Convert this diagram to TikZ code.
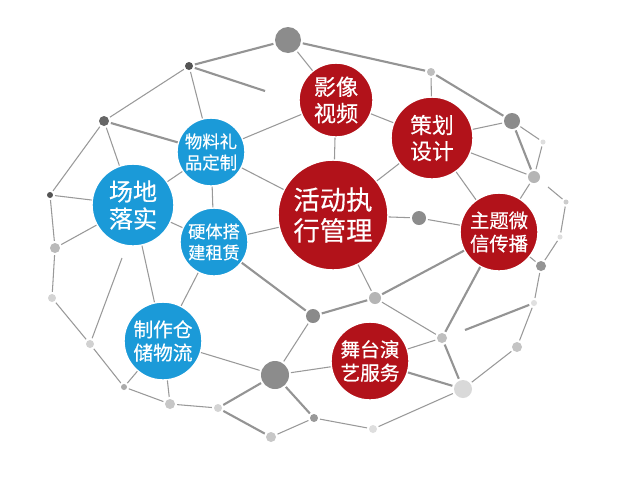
\documentclass[tikz,border=0pt]{standalone}
\usepackage{fontspec}
\newfontfamily\cjk{Noto Sans CJK SC}[FakeBold=0.4]
\definecolor{mred}{RGB}{178, 18, 26}
\definecolor{mblue}{RGB}{27, 154, 216}
\tikzset{bubble/.style n args={4}{circle, inner sep=0pt, fill=#1, draw=white,
                                  line width=0.8pt, minimum size=#2*0.04cm,
                                  text=white, align=center,
                                  font=\cjk\fontsize{#3}{#4}\selectfont},
         dot/.style 2 args={circle, inner sep=0pt, outer sep=1.2pt, fill=black!#1,
                            minimum size=#2*0.04cm},
         web/.style={line width=0.6pt, black!40},
         webthick/.style={line width=1.2pt, black!42}}

\begin{document}
\begin{tikzpicture}[x=0.02cm, y=-0.02cm]
      \useasboundingbox [fill=white] (0, 0) rectangle (628, 478);

      \node [bubble={mred}{55}{15}{17.5}] (huo) at (333, 215) {活动执\\行管理};
      \node [bubble={mred}{37}{12.6}{15}] (ying) at (336, 100) {影像\\视频};
      \node [bubble={mred}{41}{12.4}{14.8}] (cehua) at (432, 138) {策划\\设计};
      \node [bubble={mred}{39}{11}{13.2}] (zhuti) at (499, 232) {主题微\\信传播};
      \node [bubble={mred}{39}{11.2}{13.3}] (wutai) at (370, 361) {舞台演\\艺服务};
      \node [bubble={mblue}{34}{9.9}{12}] (wuliao) at (211, 152) {物料礼\\品定制};
      \node [bubble={mblue}{41}{13.7}{15.5}] (changdi) at (133, 205) {场地\\落实};
      \node [bubble={mblue}{34}{9.8}{12}] (yingti) at (214, 242) {硬体搭\\建租赁};
      \node [bubble={mblue}{39}{11.2}{13.2}] (zhizuo) at (163, 341) {制作仓\\储物流};

      \node [dot={45}{13}] (dA) at (288, 40) {};
      \node [dot={67}{4}] (dB) at (189, 66) {};
      \node [dot={60}{5}] (dC) at (104, 121) {};
      \node [dot={67}{3}] (dD) at (50, 195) {};
      \node [dot={27}{5}] (dE) at (55, 248) {};
      \node [dot={17}{4}] (dF) at (52, 298) {};
      \node [dot={18}{4}] (dG) at (90, 344) {};
      \node [dot={33}{3}] (dH) at (124, 387) {};
      \node [dot={22}{5}] (dI) at (170, 404) {};
      \node [dot={17}{4}] (dJ) at (218, 408) {};
      \node [dot={22}{5}] (dK) at (271, 437) {};
      \node [dot={40}{4}] (dL) at (314, 418) {};
      \node [dot={45}{14}] (dM) at (275, 375) {};
      \node [dot={46}{7}] (dN) at (313, 316) {};
      \node [dot={29}{6}] (dO) at (375, 298) {};
      \node [dot={25}{5}] (dP) at (442, 338) {};
      \node [dot={15}{9}] (dQ) at (463, 389) {};
      \node [dot={13}{4}] (dR) at (373, 429) {};
      \node [dot={23}{5}] (dS) at (517, 347) {};
      \node [dot={12}{3}] (dT) at (534, 303) {};
      \node [dot={42}{5}] (dU) at (541, 266) {};
      \node [dot={13}{2.5}] (dV) at (560, 237) {};
      \node [dot={20}{2.5}] (dW) at (566, 202) {};
      \node [dot={29}{6}] (dX) at (534, 177) {};
      \node [dot={13}{2.5}] (dY) at (543, 142) {};
      \node [dot={45}{8}] (dZ) at (512, 121) {};
      \node [dot={25}{4}] (dAA) at (431, 72) {};
      \node [dot={45}{7}] (dBB) at (419, 218) {};

      \coordinate (pB) at (265, 91);
      \coordinate (pG) at (122, 258);
      \coordinate (pT) at (465, 330);
      \coordinate (pW) at (548, 187);

      \foreach \a/\b in {dA/ying, dB/dC, dB/wuliao, dC/changdi, dC/dD, dD/changdi,
                         dD/dE, dE/dF, dE/changdi, dF/dG, dG/dH, dH/zhizuo, dH/dI,
                         dI/zhizuo, dI/dJ, dK/dL, dR/dQ, dL/dR, dM/dN, dM/wutai,
                         dM/zhizuo, dO/huo, dO/dP, dP/wutai, dQ/dS, dS/dT, dT/dU,
                         dU/zhuti, dU/dV, dV/dW, dX/zhuti, dX/dY, dY/dZ, dZ/cehua,
                         dAA/cehua, cehua/zhuti, cehua/huo, cehua/ying, ying/huo,
                         huo/dBB, dBB/zhuti, huo/yingti, changdi/yingti,
                         yingti/zhizuo, changdi/zhizuo, wuliao/yingti,
                         wuliao/changdi, wuliao/ying, wuliao/huo, cehua/dX,
                         dG/pG, pW/dW}
        \draw [web] (\a) -- (\b);

      \foreach \a/\b in {dA/dB, dA/dAA, dAA/dZ, dC/wuliao, yingti/dN, dN/dO,
                         dO/zhuti, dP/zhuti, wutai/dQ, dM/dL, dZ/dX, dP/dQ,
                         dM/dJ, dJ/dK, dB/pB, pT/dT}
        \draw [webthick] (\a) -- (\b);
    \end{tikzpicture}
\end{document}
